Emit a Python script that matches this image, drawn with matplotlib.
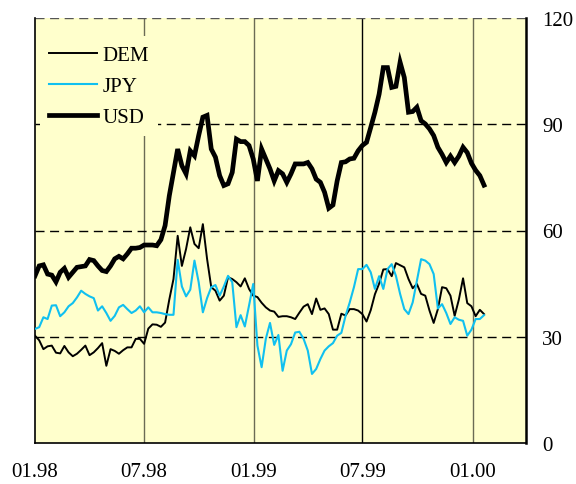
import matplotlib
matplotlib.use("Agg")
import matplotlib.pyplot as plt
import pandas as pd

plt.rcParams['font.family'] = ['Liberation Serif', 'DejaVu Serif']
plt.rcParams['font.size'] = 15

usd = [47.2, 50.0, 50.3, 47.7, 47.4, 45.5, 48.2, 49.3, 46.8, 48.2,
       49.6, 49.8, 50.0, 51.8, 51.5, 50.0, 48.7, 48.4, 50.0, 52.0,
       52.7, 52.0, 53.4, 55.0, 55.0, 55.2, 55.9, 55.9, 55.9, 55.7,
       57.4, 61.4, 69.8, 76.4, 83.0, 78.3, 76.0, 82.5, 81.1, 86.8,
       92.0, 92.5, 83.0, 80.7, 75.5, 72.7, 73.2, 76.4, 85.8, 85.1,
       85.1, 84.0, 80.2, 74.0, 83.0, 80.2, 77.4, 74.0, 76.9, 76.0,
       73.6, 76.0, 78.8, 78.8, 78.8, 79.2, 77.4, 74.5, 73.6, 70.8,
       66.3, 67.2, 74.0, 79.2, 79.4, 80.2, 80.4, 82.5, 84.0, 84.9,
       89.1, 93.4, 98.5, 106.0, 106.0, 100.4, 100.7, 107.5, 103.2, 93.4,
       93.6, 94.8, 91.0, 90.1, 88.7, 86.8, 83.5, 81.5, 79.2, 81.0,
       79.2, 81.0, 83.5, 82.0, 79.0, 77.0, 75.5, 72.8]

dem = [30.3, 29.0, 26.5, 27.3, 27.5, 25.5, 25.3, 27.4, 25.6, 24.5,
       25.2, 26.3, 27.5, 24.8, 25.6, 26.8, 28.2, 21.8, 26.5, 26.0,
       25.2, 26.2, 27.0, 27.0, 29.4, 29.4, 28.0, 32.3, 33.5, 33.4,
       32.8, 34.0, 40.5, 46.3, 58.5, 50.0, 54.8, 60.9, 56.2, 55.0,
       61.8, 52.0, 44.0, 43.0, 40.2, 41.6, 46.8, 46.3, 45.4, 44.2,
       46.5, 43.5, 41.6, 41.2, 39.6, 38.3, 37.4, 37.1, 35.6, 35.8,
       35.8, 35.5, 35.0, 36.8, 38.5, 39.2, 36.4, 40.8, 37.6, 38.0,
       36.4, 32.0, 32.0, 36.5, 36.0, 37.8, 37.8, 37.4, 36.4, 34.3,
       37.5, 42.0, 45.0, 49.0, 49.1, 47.1, 50.8, 50.2, 49.6, 46.3,
       43.7, 44.9, 42.1, 41.6, 37.4, 33.9, 37.8, 44.0, 43.7, 41.6,
       35.9, 40.5, 46.5, 39.5, 38.6, 35.8, 37.6, 36.4]

jpy = [32.2, 32.7, 35.5, 35.0, 38.8, 38.9, 35.8, 36.9, 38.6, 39.5,
       41.1, 43.0, 42.1, 41.4, 40.9, 37.4, 38.6, 36.7, 34.5, 35.9,
       38.3, 39.0, 37.8, 36.7, 37.4, 38.6, 36.9, 38.3, 36.9, 36.9,
       36.7, 36.4, 36.2, 36.2, 51.7, 44.2, 41.4, 43.3, 51.5, 45.4,
       36.9, 40.9, 44.0, 44.6, 41.6, 44.2, 47.2, 45.4, 32.7, 36.1,
       32.9, 38.8, 44.9, 27.5, 21.4, 29.4, 33.9, 27.7, 30.5, 20.4,
       26.1, 27.9, 31.2, 31.4, 29.4, 26.1, 19.5, 20.9, 23.7, 26.1,
       27.3, 28.2, 30.3, 31.1, 35.9, 39.7, 44.0, 49.1, 49.1, 50.3,
       48.2, 43.5, 47.1, 43.5, 49.1, 50.5, 47.2, 42.1, 37.8, 36.4,
       39.7, 45.8, 51.9, 51.5, 50.5, 47.7, 38.0, 39.2, 36.7, 33.6,
       35.5, 34.8, 34.5, 30.3, 32.0, 35.0, 35.0, 36.1]

dates = pd.date_range('1998-01-01', periods=len(usd), freq='7D')
tick_dates = pd.to_datetime(['1998-01-01', '1998-07-01', '1999-01-01', '1999-07-01', '2000-01-01'])
tick_labels = ['01.98', '07.98', '01.99', '07.99', '01.00']
y_ticks = [0, 30, 60, 90, 120]

fig = plt.figure(figsize=(5.76, 4.85), dpi=100)
ax = fig.add_axes([35/576, 41/485, 491/576, 425/485])
ax.set_facecolor('#FFFFCC')

ax.set_xlim(pd.Timestamp('1998-01-01'), pd.Timestamp('2000-03-30'))
ax.set_ylim(0, 120)

# gridlines
for i, d in enumerate(tick_dates[1:]):
    ax.axvline(d, color='black' if i == 2 else '#6b6b55', lw=1.0, zorder=1)
for y in y_ticks[1:]:
    ax.axhline(y, color='black' if y < 120 else '#555555', lw=1.0,
               linestyle=(0, (6.5, 4)), zorder=1)

ax.plot(dates, dem, color='black', lw=1.4, label='DEM', zorder=3)
ax.plot(dates, jpy, color='#10C0F0', lw=1.5, label='JPY', zorder=3)
ax.plot(dates, usd, color='black', lw=3.4, label='USD', zorder=4,
        solid_joinstyle='miter')

ax.set_xticks(tick_dates)
ax.set_xticklabels(tick_labels)
ax.set_yticks(y_ticks)
ax.yaxis.tick_right()
ax.tick_params(axis='y', length=0, pad=11.5, labelsize=15)
ax.tick_params(axis='x', length=0, pad=14, labelsize=15)

ax.spines['top'].set_visible(False)
ax.spines['left'].set_linewidth(1.2)
ax.spines['bottom'].set_linewidth(1.2)
ax.spines['right'].set_linewidth(1.8)

leg = ax.legend(loc='upper left', bbox_to_anchor=(0.01, 0.958), frameon=True,
                fontsize=15, handlelength=2.3, handletextpad=0.25,
                labelspacing=0.55, borderpad=0.45, borderaxespad=0)
leg.get_frame().set_facecolor('#FFFFCC')
leg.get_frame().set_edgecolor('none')
leg.get_frame().set_alpha(1)
leg.get_frame().set_boxstyle('square', pad=0)
leg.set_zorder(10)

fig.savefig('out.png', dpi=100)
